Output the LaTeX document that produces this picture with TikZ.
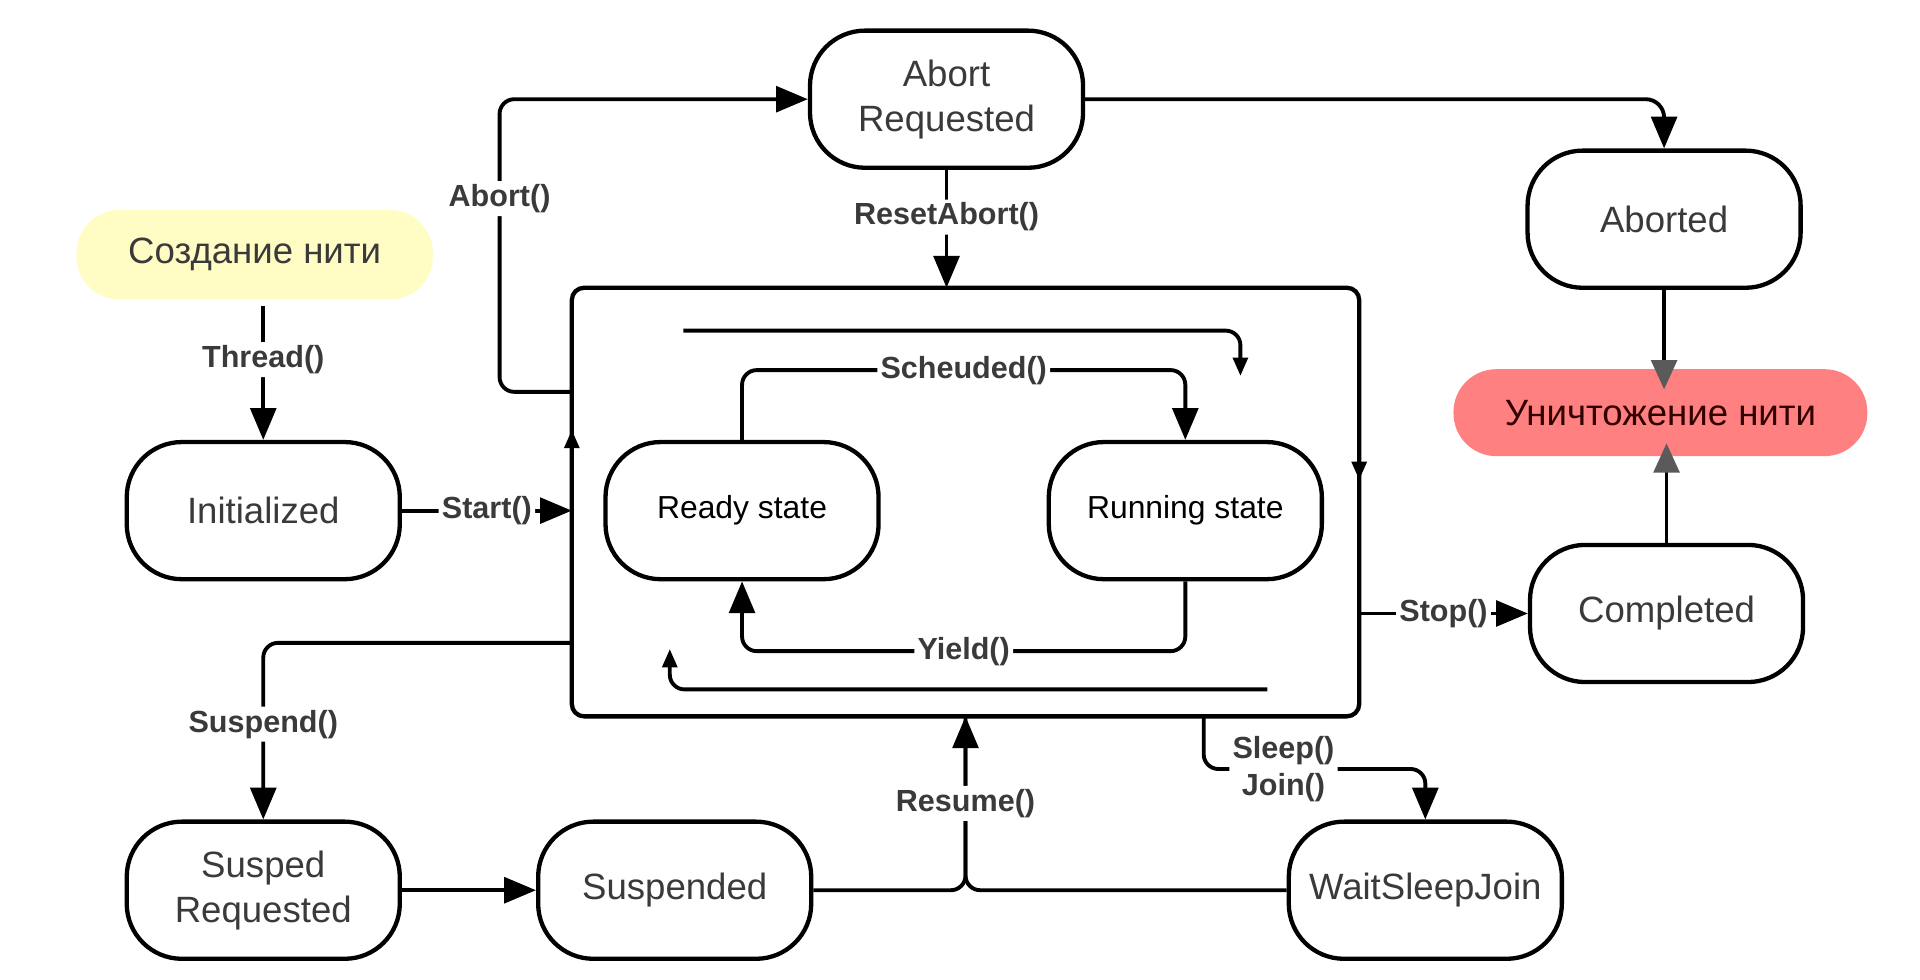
\documentclass[tikz,border=0pt]{standalone}
\usepackage{fontspec}
\setmainfont{Liberation Sans}
\usetikzlibrary{arrows.meta}
\definecolor{createyellow}{HTML}{FFFCC4}
\definecolor{destroyred}{HTML}{FF8080}
\definecolor{statetext}{HTML}{3A3A3A}
\definecolor{tipgray}{HTML}{5A5A5A}
\newcommand{\statefont}{\fontsize{17}{21}\selectfont}
\newcommand{\innerfont}{\fontsize{14.8}{18}\selectfont}
\newcommand{\callfont}{\fontsize{14.2}{17}\selectfont\bfseries}
\tikzset{
    state/.style={draw, line width=2pt, rounded corners=9mm, minimum width=44.6mm, minimum height=22.4mm, align=center, font=\statefont, text=statetext},
    innerstate/.style={state, font=\innerfont, text=black},
    blob/.style={rounded corners=7mm, font=\statefont, text=statetext},
    threadbox/.style={draw, line width=2pt, rounded corners=2mm, minimum width=128.6mm, minimum height=70mm, inner sep=0pt, outer sep=0pt},
    lbl/.style={fill=white, font=\callfont, text=statetext, inner sep=1.5pt, align=center},
    conn/.style={line width=1.8pt, rounded corners=2.4mm, -{Triangle[length=5.2mm,width=4.2mm]}},
    tipsmall/.style={-{Triangle[length=3mm,width=2.4mm]}},
    tipgrey/.style={-{Triangle[length=4.8mm,width=4.2mm,color=tipgray]}}
}
\begin{document}
\begin{tikzpicture}[x=0.2mm, y=-0.2mm]
                \useasboundingbox (0,0) rectangle (1568,800);
                \node[blob, fill=createyellow, minimum width=58.2mm, minimum height=14.6mm] (create) at (208,208) {Создание нити};
                \node[state] (init) at (215,417) {Initialized};
                \node[state] (abortreq) at (773,81) {Abort\\Requested};
                \node[state] (aborted) at (1359,179) {Aborted};
                \node[state] (completed) at (1361,501) {Completed};
                \node[state] (suspreq) at (215,727) {Susped\\Requested};
                \node[state] (suspended) at (551,727) {Suspended};
                \node[state] (wait) at (1164,727) {WaitSleepJoin};
                \node[threadbox] (thread) at (788.5,410) {};
                \node[innerstate] (ready) at (606,417) {Ready state};
                \node[innerstate] (running) at (968,417) {Running state};
                \node[blob, fill=destroyred, text=black!80!red, minimum width=67.6mm, minimum height=14.2mm] (destroy) at (1356,337) {Уничтожение нити};

                \coordinate (killtop) at (1359,318);
                \coordinate (killbot) at (1361,362);
                \coordinate (looptop) at (558,270);
                \coordinate (looptopend) at (1013,307);
                \coordinate (loopbot) at (1035,563);
                \coordinate (loopbotend) at (547,530);

                \draw[conn] ([yshift=-1mm]create.south -| init.north) to node[lbl, pos=0.4] {Thread()} (init.north);
                \draw[conn] (init.east) to node[lbl] {Start()} (thread.west |- init.east);
                \draw[conn, tipsmall] (thread.west |- init.east) -- (thread.west |- 0,351);
                \draw[conn, tipsmall] (thread.east |- 0,300) -- (thread.east |- 0,392);
                \draw[conn] (thread.west |- 0,320) -- ++(-59,0) |- node[lbl, pos=0.33] {Abort()} (abortreq.west);
                \draw[conn, rounded corners=3mm] (abortreq.east) -| (aborted.north);
                \draw[conn] (abortreq.south) to node[lbl, pos=0.4] {ResetAbort()} (abortreq.south |- thread.north);
                \draw[conn, tipgrey] (aborted.south) -- (killtop);
                \draw[conn, tipgrey] (completed.north) -- (killbot);
                \draw[conn] (thread.east |- completed.west) to node[lbl] {Stop()} (completed.west);
                \draw[conn] (thread.west |- 0,525) -| node[lbl, pos=0.73] {Suspend()} (suspreq.north);
                \draw[conn] (suspreq.east) to (suspended.west);
                \draw[line width=1.8pt, rounded corners=2.4mm] (wait.west) -| (thread.south);
                \draw[conn] (suspended.east) -| node[lbl, pos=0.75] {Resume()} (thread.south);
                \draw[conn] (thread.south -| 983,0) |- node[lbl, pos=0.68] {Sleep()\\Join()} (wait.north |- 0,628) -- (wait.north);

                \draw[conn] (ready.north) -- ++(0,-57) -| node[lbl, pos=0.25] {Scheuded()} (running.north);
                \draw[conn] (running.south) -- ++(0,57) -| node[lbl, pos=0.25] {Yield()} (ready.south);
                \draw[conn, tipsmall] (looptop) -| (looptopend);
                \draw[conn, tipsmall] (loopbot) -| (loopbotend);
\end{tikzpicture}
\end{document}
